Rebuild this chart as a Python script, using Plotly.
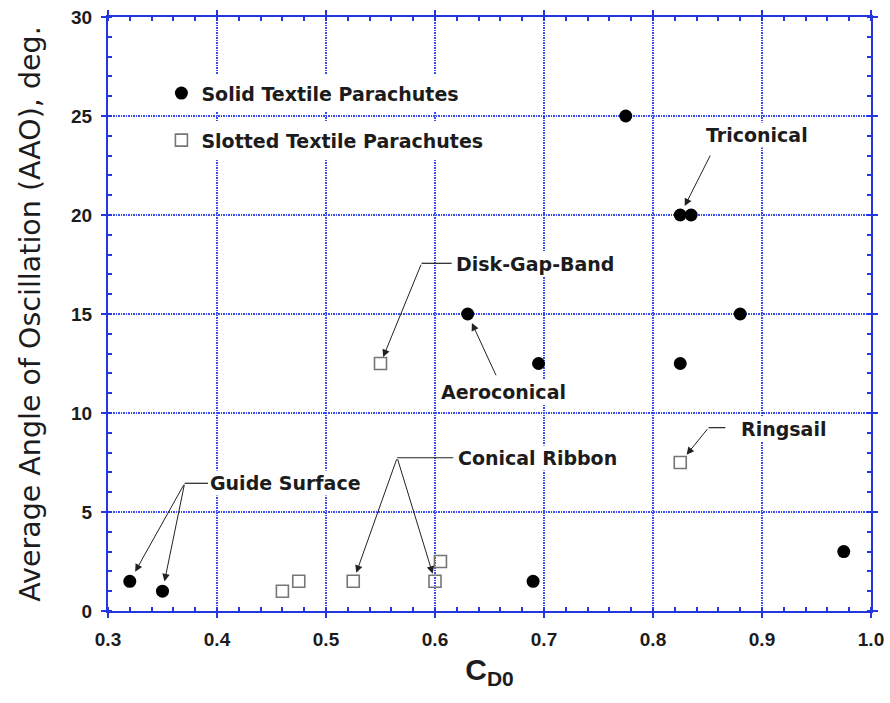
import plotly.graph_objects as go

# Drag coefficient C_D0 and average angle of oscillation (deg) per canopy type
solid_cd0 = [0.32, 0.35, 0.63, 0.69, 0.695, 0.775, 0.825, 0.835, 0.825, 0.88, 0.975]
solid_aao = [1.5, 1.0, 15.0, 1.5, 12.5, 25.0, 20.0, 20.0, 12.5, 15.0, 3.0]

slotted_cd0 = [0.46, 0.475, 0.525, 0.55, 0.60, 0.605, 0.825]
slotted_aao = [1.0, 1.5, 1.5, 12.5, 1.5, 2.5, 7.5]

x_ticks = [0.3, 0.4, 0.5, 0.6, 0.7, 0.8, 0.9, 1.0]
x_tick_text = ["0.3", "0.4", "0.5", "0.6", "0.7", "0.8", "0.9", "1.0"]
y_ticks = [0, 5, 10, 15, 20, 25, 30]

BLUE = "#2436e0"
GRID = "#3a4cf0"
INK = "#1c1c1c"
LABEL_FONT = dict(family="DejaVu Sans", size=19, weight="bold", color=INK)

series = {
    "solid": (solid_cd0, solid_aao),
    "slotted": (slotted_cd0, slotted_aao),
}

# name label: (text, text x, text y, leader segment or None, tail, targets)
callouts = [
    ("Triconical", 0.847, 24.05, None, (0.8532, 23.08), [("solid", 6, 10)]),
    ("Disk-Gap-Band", 0.617, 17.53, (0.5877, 0.6153, 17.56), (0.5877, 17.56), [("slotted", 3, 7)]),
    ("Aeroconical", 0.604, 11.08, None, (0.6566, 11.83), [("solid", 2, 10)]),
    ("Conical Ribbon", 0.619, 7.71, (0.5653, 0.6167, 7.74), (0.5653, 7.74),
     [("slotted", 2, 9), ("slotted", 4, 8)]),
    ("Guide Surface", 0.392, 6.48, (0.3703, 0.3917, 6.45), (0.3703, 6.45),
     [("solid", 0, 11), ("solid", 1, 10)]),
    ("Ringsail", 0.879, 9.19, (0.8510, 0.8663, 9.26), (0.8510, 9.26), [("slotted", 6, 10)]),
]

fig = go.Figure()

fig.add_trace(go.Scatter(
    x=solid_cd0, y=solid_aao, mode="markers", name="Solid Textile Parachutes",
    marker=dict(symbol="circle", size=13, color="black", line=dict(width=0)),
    legend="legend",
))
fig.add_trace(go.Scatter(
    x=slotted_cd0, y=slotted_aao, mode="markers", name="Slotted Textile Parachutes",
    marker=dict(symbol="square-open", size=12, color="#767676", line=dict(width=1.6)),
    legend="legend2",
))

annotations = []
shapes = []
for text, tx, ty, leader, tail, targets in callouts:
    annotations.append(dict(
        x=tx, y=ty, xref="x", yref="y", text=text, showarrow=False,
        xanchor="left", yanchor="middle", font=LABEL_FONT,
        bgcolor="white", borderpad=1,
    ))
    if leader is not None:
        x0, x1, ly = leader
        shapes.append(dict(type="line", xref="x", yref="y", x0=x0, x1=x1, y0=ly, y1=ly,
                           line=dict(color="#222222", width=1.2), layer="above"))
    for key, idx, gap in targets:
        xs, ys = series[key]
        annotations.append(dict(
            x=xs[idx], y=ys[idx], xref="x", yref="y",
            ax=tail[0], ay=tail[1], axref="x", ayref="y",
            text="", showarrow=True, arrowhead=2, arrowsize=1.5, arrowwidth=1,
            arrowcolor="#222222", standoff=gap,
        ))

axis_common = dict(
    automargin=False,
    showline=True, linecolor=BLUE, linewidth=2, mirror="allticks",
    ticks="outside", ticklen=5, tickwidth=2, tickcolor=BLUE,
    showgrid=True, gridcolor=GRID, gridwidth=1.7, griddash="2px,1px,1px,1px",
    zeroline=False,
    tickfont=dict(family="Liberation Sans", size=19, weight="bold", color=INK),
)

fig.update_xaxes(
    **axis_common,
    range=[0.3, 1.0], tickvals=x_ticks, ticktext=x_tick_text,
    minor=dict(dtick=0.02, ticks="inside", ticklen=4, tickwidth=1.5, tickcolor=BLUE, showgrid=False),
    ticklabelstandoff=5,
    title=dict(text="<b>C<sub>D0</sub></b>", font=dict(family="Liberation Sans", size=30, color=INK),
               standoff=10),
)
fig.update_yaxes(
    **axis_common,
    range=[0, 30], tickvals=y_ticks,
    minor=dict(dtick=1, ticks="inside", ticklen=4, tickwidth=1.5, tickcolor=BLUE, showgrid=False),
    ticklabelstandoff=5,
    title=dict(text="Average Angle of Oscillation (AAO), deg.",
               font=dict(family="DejaVu Sans", size=28.5, color=INK), standoff=22),
)

legend_common = dict(
    bgcolor="white", borderwidth=0, font=LABEL_FONT, xanchor="left", yanchor="middle",
    itemsizing="trace", tracegroupgap=0,
)
fig.update_layout(
    width=890, height=703,
    margin=dict(l=108, r=19, t=17, b=92),
    plot_bgcolor="white", paper_bgcolor="white",
    showlegend=True,
    legend=dict(**legend_common, x=0.070, y=0.8716),
    legend2=dict(**legend_common, x=0.070, y=0.7925),
    annotations=annotations,
    shapes=shapes,
)

fig.write_html("out.html")
